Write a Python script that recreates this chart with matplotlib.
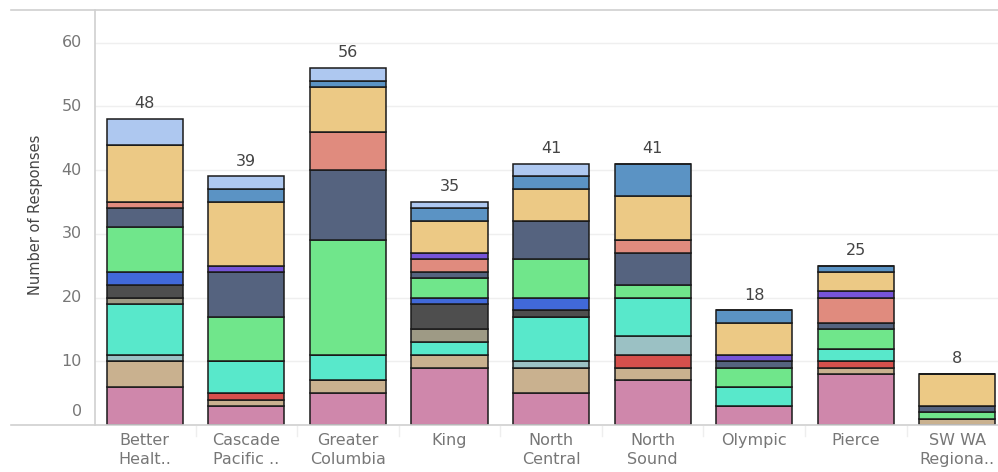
import numpy as np
import matplotlib
matplotlib.use('Agg')
import matplotlib.pyplot as plt
from matplotlib.lines import Line2D

regions = ['Better\nHealt..', 'Cascade\nPacific ..', 'Greater\nColumbia', 'King',
           'North\nCentral', 'North\nSound', 'Olympic', 'Pierce', 'SW WA\nRegiona..']

# stack order from the bottom up: (colour, values per region)
pink       = [6, 3, 5, 9, 5, 7, 3, 8, 0]
tan        = [4, 1, 2, 2, 4, 2, 0, 1, 1]
red        = [0, 1, 0, 0, 0, 2, 0, 1, 0]
teal_gray  = [1, 0, 0, 0, 1, 3, 0, 0, 0]
turquoise  = [8, 5, 4, 2, 7, 6, 3, 2, 0]
gray_tan   = [1, 0, 0, 2, 0, 0, 0, 0, 0]
dark_gray  = [2, 0, 0, 4, 1, 0, 0, 0, 0]
blue       = [2, 0, 0, 1, 2, 0, 0, 0, 0]
green      = [7, 7, 18, 3, 6, 2, 3, 3, 1]
slate      = [3, 7, 11, 1, 6, 5, 1, 1, 1]
salmon     = [1, 0, 6, 2, 0, 2, 0, 4, 0]
purple     = [0, 1, 0, 1, 0, 0, 1, 1, 0]
gold       = [9, 10, 7, 5, 5, 7, 5, 3, 5]
steel_blue = [0, 2, 1, 2, 2, 5, 2, 1, 0]
light_blue = [4, 2, 2, 1, 2, 0, 0, 0, 0]

series = [
    (pink, '#CF87AB'), (tan, '#C9B18F'), (red, '#D6504C'), (teal_gray, '#9BC1C4'),
    (turquoise, '#58E8CB'), (gray_tan, '#9E9A85'), (dark_gray, '#4E4E4E'),
    (blue, '#4169D9'), (green, '#70E68B'), (slate, '#55637F'), (salmon, '#E08B7E'),
    (purple, '#7654D8'), (gold, '#ECC985'), (steel_blue, '#5B93C4'),
    (light_blue, '#AEC8F0'),
]

W, H = 998, 472
fig = plt.figure(figsize=(W / 100, H / 100), dpi=100)
fig.patch.set_facecolor('white')
ax_left, ax_right, ax_top, ax_bot = 95, 998, 10, 425
ax = fig.add_axes([ax_left / W, (H - ax_bot) / H, (ax_right - ax_left) / W, (ax_bot - ax_top) / H])

x = np.arange(len(regions))
bottom = np.zeros(len(regions))
for vals, col in series:
    v = np.array(vals, dtype=float)
    ax.bar(x, v, bottom=bottom, width=0.75, color=col, edgecolor='#1a1a1a',
           linewidth=1.1, zorder=3)
    bottom += v

totals = bottom
for xi, t in zip(x, totals):
    ax.text(xi, t + 1.2, f'{int(t)}', ha='center', va='bottom', fontsize=11.5,
            color='#444444', zorder=4)

ax.set_xlim(-0.49, 8.40)
ax.set_ylim(0, 65.1)
ax.set_yticks(range(0, 61, 10))
ax.set_yticklabels([])
for yv in range(10, 61, 10):
    ax.axhline(yv, color='#efefef', linewidth=1, zorder=0)
for s in ax.spines.values():
    s.set_visible(False)
ax.tick_params(axis='both', length=0, labelbottom=False)
ax.set_xticks([])

# y tick labels (Tableau lifts the 0 label)
for yv in range(0, 61, 10):
    ypix = ax_bot - yv * (ax_bot - ax_top) / 65.1
    if yv == 0:
        ypix = 412
    fig.text(82 / W, 1 - ypix / H, str(yv), ha='right', va='center',
             fontsize=11.5, color='#777777')

fig.text(36 / W, 1 - 215 / H, 'Number of Responses', rotation=90, ha='center',
         va='center', fontsize=10.5, color='#444444',
         family=['Liberation Sans Narrow', 'DejaVu Sans'])

# x labels
step = (ax_right - ax_left) / (8.40 + 0.49)
for xi, lab in zip(x, regions):
    xpix = ax_left + (xi + 0.49) * step
    fig.text(xpix / W, 1 - 433 / H, lab, ha='center', va='top', fontsize=11.5,
             color='#777777', linespacing=1.35,
             family=['Liberation Sans Narrow', 'DejaVu Sans'])
    if xi > 0:
        xs = (ax_left + (xi - 0.5 + 0.49) * step) / W
        fig.add_artist(Line2D([xs, xs], [1 - 426 / H, 1 - 436 / H],
                              color='#eeeeee', linewidth=1))

# frame lines
fig.add_artist(Line2D([11 / W, 1], [1 - ax_top / H] * 2, color='#d0d0d0', linewidth=1.2))
fig.add_artist(Line2D([11 / W, 1], [1 - ax_bot / H] * 2, color='#d0d0d0', linewidth=1.2))
fig.add_artist(Line2D([ax_left / W] * 2, [1 - ax_top / H, 1 - ax_bot / H],
                      color='#d0d0d0', linewidth=1.2))

fig.savefig('out.png', dpi=100)
